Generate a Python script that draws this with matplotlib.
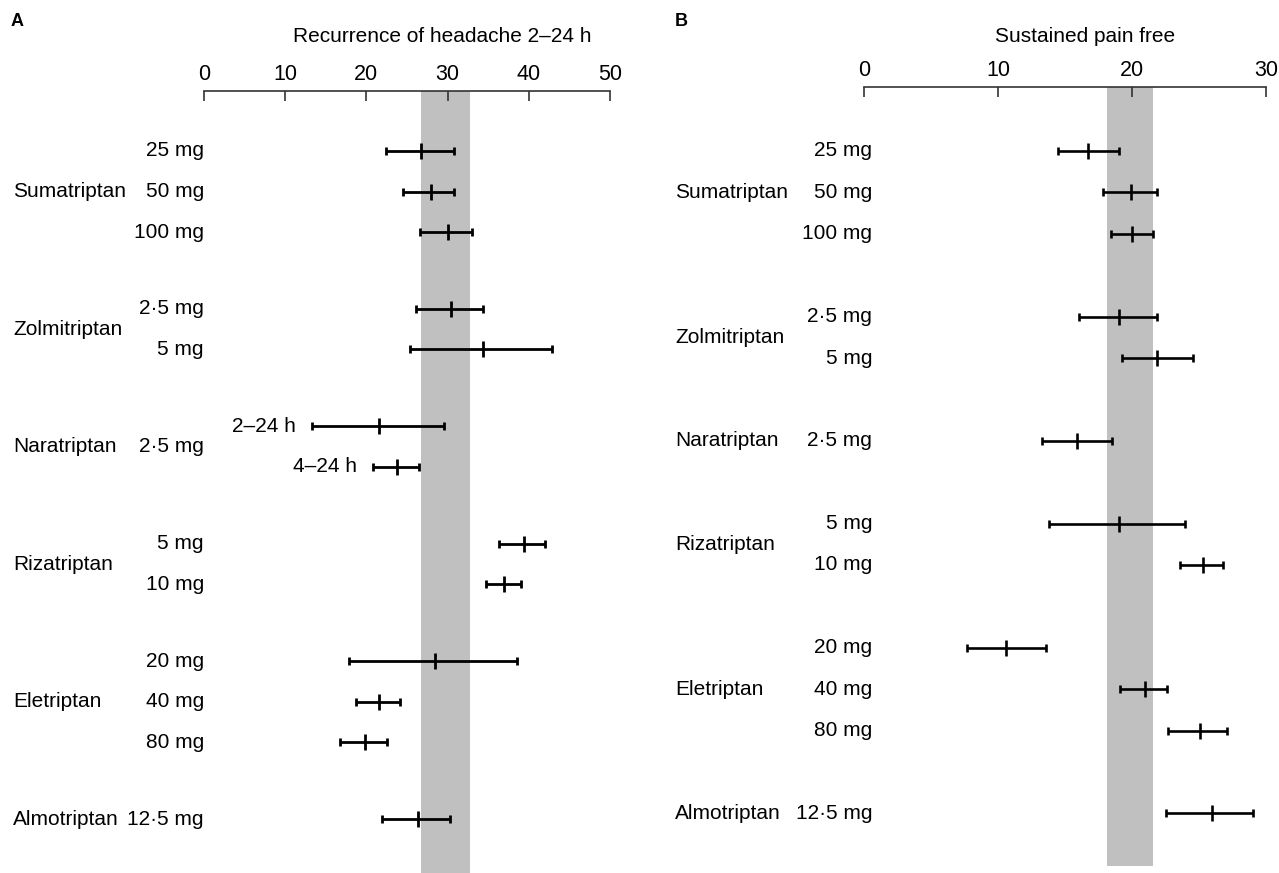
import numpy as np
import matplotlib
matplotlib.use("Agg")
import matplotlib.pyplot as plt

plt.rcParams["font.family"] = ["Liberation Sans", "DejaVu Sans"]

# Panel A: recurrence of headache 2-24 h (%)
a_drugs = ["Sumatriptan", "Zolmitriptan", "Naratriptan", "Rizatriptan", "Eletriptan", "Almotriptan"]
a_doses = [["25 mg", "50 mg", "100 mg"],
           ["2·5 mg", "5 mg"],
           ["2·5 mg"],
           ["5 mg", "10 mg"],
           ["20 mg", "40 mg", "80 mg"],
           ["12·5 mg"]]
a_sub = ["2–24 h", "4–24 h"]  # naratriptan rows
a_mean = [26.75, 27.9, 30.0, 30.4, 34.3, 21.5, 23.75, 39.4, 37.0, 28.4, 21.5, 19.8, 26.3]
a_low = [22.4, 24.5, 26.65, 26.15, 25.35, 13.3, 20.8, 36.3, 34.7, 17.9, 18.7, 16.8, 21.9]
a_high = [30.8, 30.8, 33.0, 34.3, 42.8, 29.5, 26.5, 42.0, 39.1, 38.6, 24.1, 22.5, 30.3]
a_band = (26.7, 32.7)

# Panel B: sustained pain free (%)
b_drugs = ["Sumatriptan", "Zolmitriptan", "Naratriptan", "Rizatriptan", "Eletriptan", "Almotriptan"]
b_doses = [["25 mg", "50 mg", "100 mg"],
           ["2·5 mg", "5 mg"],
           ["2·5 mg"],
           ["5 mg", "10 mg"],
           ["20 mg", "40 mg", "80 mg"],
           ["12·5 mg"]]
b_mean = [16.7, 19.9, 20.0, 19.0, 21.9, 15.9, 19.0, 25.3, 10.6, 21.0, 25.1, 25.95]
b_low = [14.46, 17.85, 18.4, 16.05, 19.25, 13.26, 13.8, 23.55, 7.7, 19.1, 22.7, 22.56]
b_high = [19.0, 21.85, 21.6, 21.85, 24.55, 18.5, 23.94, 26.8, 13.56, 22.6, 27.1, 29.0]
b_band = (18.15, 21.6)

W, H = 1279, 873
fig = plt.figure(figsize=(W / 100, H / 100), dpi=100)
fs = 15


def row_positions(sizes, gap):
    pos, y = [], 0.0
    for i, n in enumerate(sizes):
        if i > 0:
            y += gap
        for k in range(n):
            pos.append(y)
            y += 1
    return np.array(pos)


def draw_panel(rect, sizes, mean, low, high, band, xmax, gap,
               first_px, axis_px, bottom_px, row_px, lw):
    ax = fig.add_axes(rect)
    ys = row_positions(sizes, gap)
    top = -(first_px - axis_px) / row_px
    bottom = (bottom_px - first_px) / row_px
    ax.set_ylim(bottom, top)
    ax.set_xlim(0, xmax)
    ax.axvspan(band[0], band[1], color="#c0c0c0", lw=0, zorder=0)
    mean = np.array(mean)
    err = [mean - np.array(low), np.array(high) - mean]
    ax.errorbar(mean, ys, xerr=err, fmt="none", ecolor="black", elinewidth=lw,
                capsize=3, capthick=lw, zorder=3)
    ax.plot(mean, ys, ls="none", marker="|", ms=12, mew=lw, color="black", zorder=4)
    for s in ["left", "right", "bottom"]:
        ax.spines[s].set_visible(False)
    ax.spines["top"].set_linewidth(1.2)
    ax.spines["top"].set_color("#333333")
    ax.xaxis.set_ticks_position("top")
    ax.tick_params(axis="x", direction="in", length=7, width=1.2, color="#333333",
                   labelsize=15.5, pad=4)
    ax.set_yticks([])
    ax.patch.set_alpha(0)
    return ax, ys


# ---------- panel A ----------
a_sizes = [3, 2, 2, 2, 3, 1]
axA, ysA = draw_panel([204 / W, 0, 406 / W, 1 - 91 / H], a_sizes,
                      a_mean, a_low, a_high, a_band, 50, 0.9,
                      151, 91, 873, 40.5, 2.0)
axA.set_xticks(range(0, 51, 10))
uxA = 50 / 406
idx = 0
for g, n in enumerate(a_sizes):
    rows = ysA[idx:idx + n]
    if g == 2:
        yc = rows.mean()
        axA.text(0, yc, a_doses[g][0], ha="right", va="center", fontsize=fs, clip_on=False)
        for k in range(2):
            axA.text(a_low[idx + k] - 2.0, rows[k], a_sub[k], ha="right", va="center",
                     fontsize=fs)
        axA.text(-191 * uxA, yc, a_drugs[g], ha="left", va="center", fontsize=fs,
                 clip_on=False)
    else:
        for k in range(n):
            axA.text(0, rows[k], a_doses[g][k], ha="right", va="center", fontsize=fs,
                     clip_on=False)
        axA.text(-191 * uxA, rows.mean(), a_drugs[g], ha="left", va="center", fontsize=fs,
                 clip_on=False)
    idx += n
fig.text(442 / W, 1 - 37 / H, "Recurrence of headache 2–24 h", ha="center", va="center",
         fontsize=15)
fig.text(11 / W, 1 - 22 / H, "A", ha="left", va="center", fontsize=13, fontweight="bold")

# ---------- panel B ----------
b_sizes = [3, 2, 1, 2, 3, 1]
axB, ysB = draw_panel([864 / W, 1 - 866 / H, 402 / W, (866 - 87) / H], b_sizes,
                      b_mean, b_low, b_high, b_band, 30, 1.0,
                      151, 87, 866, 41.4, 1.9)
axB.set_xticks(range(0, 31, 10))
uxB = 30 / 402
idx = 0
for g, n in enumerate(b_sizes):
    rows = ysB[idx:idx + n]
    for k in range(n):
        axB.text(8 * uxB, rows[k], b_doses[g][k], ha="right", va="center",
                 fontsize=fs, clip_on=False)
    axB.text(-189 * uxB, rows.mean(), b_drugs[g], ha="left", va="center", fontsize=fs,
             clip_on=False)
    idx += n
fig.text(1085 / W, 1 - 36 / H, "Sustained pain free", ha="center", va="center",
         fontsize=15)
fig.text(675 / W, 1 - 22 / H, "B", ha="left", va="center", fontsize=13, fontweight="bold")

fig.savefig("out.png", dpi=100)
